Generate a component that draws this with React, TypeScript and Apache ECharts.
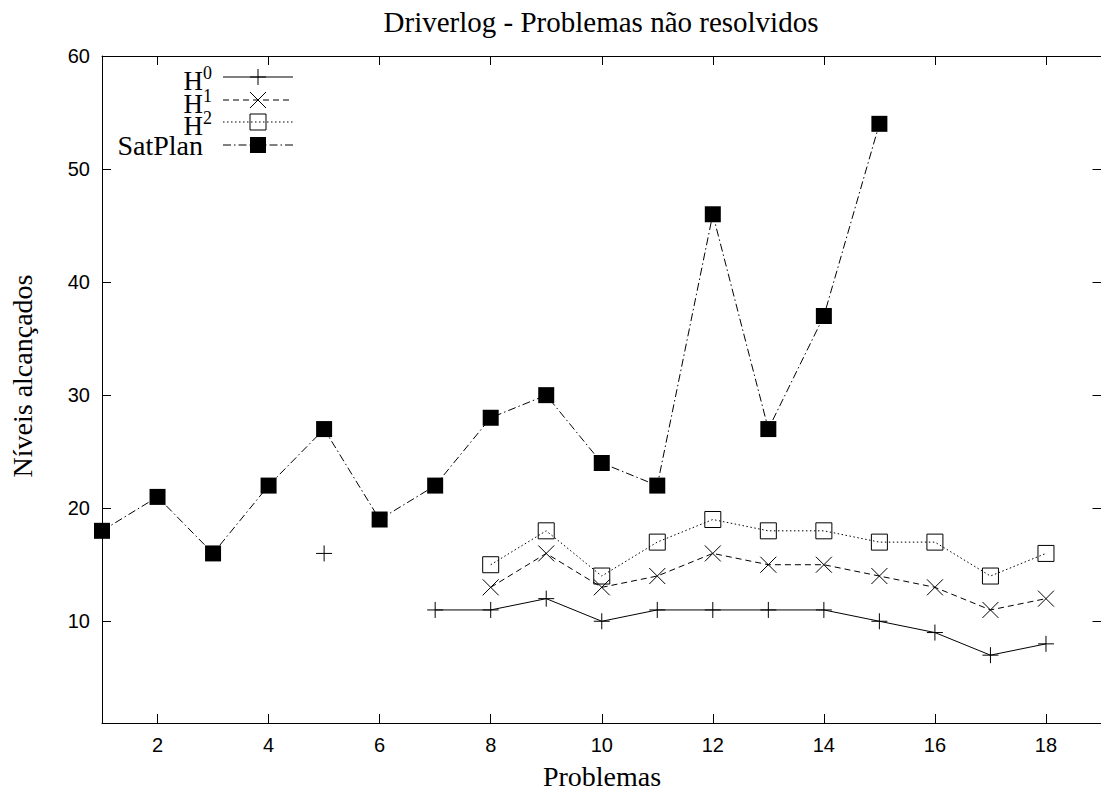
import React, { useEffect, useRef } from "react";
import * as echarts from "echarts";

const problems = [1, 2, 3, 4, 5, 6, 7, 8, 9, 10, 11, 12, 13, 14, 15, 16, 17, 18];
// null = no value
const h0: (number | null)[] = [null, null, null, null, 16, null, 11, 11, 12, 10, 11, 11, 11, 11, 10, 9, 7, 8];
const h1: (number | null)[] = [null, null, null, null, null, null, null, 13, 16, 13, 14, 16, 15, 15, 14, 13, 11, 12];
const h2: (number | null)[] = [null, null, null, null, null, null, null, 15, 18, 14, 17, 19, 18, 18, 17, 17, 14, 16];
const satplan: (number | null)[] = [18, 21, 16, 22, 27, 19, 22, 28, 30, 24, 22, 46, 27, 37, 54, null, null, null];

const xTicks = [2, 4, 6, 8, 10, 12, 14, 16, 18];
const yTicks = [10, 20, 30, 40, 50, 60];

const titleText = "Driverlog - Problemas não resolvidos";
const xName = "Problemas";
const yName = "Níveis alcançados";

const toPairs = (vals: (number | null)[]) => {
  const out: any[] = [];
  let started = false;
  vals.forEach((v, i) => {
    if (v == null) {
      if (started) out.push([problems[i], "-"]);
    } else {
      started = true;
      out.push([problems[i], v]);
    }
  });
  while (out.length && out[out.length - 1][1] === "-") out.pop();
  return out;
};

const PLUS = "path://M8,0L8,16M0,8L16,8";
const CROSS = "path://M0,0L16,16M16,0L0,16";

export default function App() {
  const ref = useRef<HTMLDivElement>(null);
  useEffect(() => {
    if (!ref.current) return;
    const chart = echarts.init(ref.current, undefined, { renderer: "svg" });
    const axisFont = { fontFamily: "Liberation Sans", fontSize: 20, color: "#000" };
    const xAxisBase = {
      type: "value" as const,
      min: 1,
      max: 19,
      axisLine: { show: true, lineStyle: { color: "#000", width: 1 } },
      axisTick: { show: true, inside: true, length: 9, customValues: xTicks, lineStyle: { color: "#000" } },
      splitLine: { show: false },
    };
    const yAxisBase = {
      type: "value" as const,
      min: 1,
      max: 60,
      axisLine: { show: true, lineStyle: { color: "#000", width: 1 } },
      axisTick: { show: true, inside: true, length: 9, customValues: yTicks, lineStyle: { color: "#000" } },
      splitLine: { show: false },
    };
    const black = "#000";
    const serif = "Liberation Serif";
    const legendRows = [
      { label: "H", sup: "0", y: 77, dash: "solid", sym: "plus" },
      { label: "H", sup: "1", y: 100, dash: [6, 4], sym: "cross" },
      { label: "H", sup: "2", y: 122, dash: [1.5, 2.5], sym: "open" },
      { label: "SatPlan", sup: "", y: 145, dash: [8, 3, 1.5, 3], sym: "filled" },
    ];
    const graphics: any[] = [];
    legendRows.forEach((r) => {
      const ty = r.sup ? r.y + 4 : r.y;
      graphics.push({
        type: "text",
        x: 203,
        y: ty,
        style: {
          text: r.label,
          align: "right",
          verticalAlign: "middle",
          fontFamily: serif,
          fontSize: r.sup ? 27 : 28,
          fill: black,
        },
      });
      if (r.sup) {
        graphics.push({
          type: "text",
          x: 203,
          y: r.y - 4,
          style: {
            text: r.sup,
            align: "left",
            verticalAlign: "middle",
            fontFamily: serif,
            fontSize: 18,
            fill: black,
          },
        });
      }
      graphics.push({
        type: "line",
        shape: { x1: 223, y1: r.y, x2: 293, y2: r.y },
        style: { stroke: black, lineWidth: 1, lineDash: r.dash === "solid" ? null : r.dash },
      });
      const cx = 258;
      if (r.sym === "plus") {
        graphics.push({ type: "line", shape: { x1: cx - 8, y1: r.y, x2: cx + 8, y2: r.y }, style: { stroke: black, lineWidth: 1 } });
        graphics.push({ type: "line", shape: { x1: cx, y1: r.y - 8, x2: cx, y2: r.y + 8 }, style: { stroke: black, lineWidth: 1 } });
      } else if (r.sym === "cross") {
        graphics.push({ type: "line", shape: { x1: cx - 8, y1: r.y - 8, x2: cx + 8, y2: r.y + 8 }, style: { stroke: black, lineWidth: 1 } });
        graphics.push({ type: "line", shape: { x1: cx + 8, y1: r.y - 8, x2: cx - 8, y2: r.y + 8 }, style: { stroke: black, lineWidth: 1 } });
      } else if (r.sym === "open") {
        graphics.push({ type: "rect", shape: { x: cx - 8, y: r.y - 8, width: 16, height: 16 }, style: { fill: "none", stroke: black, lineWidth: 1 } });
      } else {
        graphics.push({ type: "rect", shape: { x: cx - 8, y: r.y - 8, width: 16, height: 16 }, style: { fill: black } });
      }
    });
    graphics.push({
      type: "text",
      x: 601,
      y: 22,
      style: { text: titleText, align: "center", verticalAlign: "middle", fontFamily: serif, fontSize: 29, fill: black },
    });
    graphics.push({
      type: "text",
      x: 602,
      y: 776,
      style: { text: xName, align: "center", verticalAlign: "middle", fontFamily: serif, fontSize: 28, fill: black },
    });
    graphics.push({
      type: "text",
      x: 22,
      y: 376,
      rotation: Math.PI / 2,
      style: { text: yName, align: "center", verticalAlign: "middle", fontFamily: serif, fontSize: 28, fill: black },
    });

    const seriesCommon = {
      type: "line" as const,
      xAxisIndex: 0,
      yAxisIndex: 0,
      connectNulls: false,
      clip: false,
      showAllSymbol: true,
      emphasis: { disabled: true },
    };

    chart.setOption({
      animation: false,
      grid: { left: 102, top: 56, width: 999.5, height: 667, containLabel: false, outerBoundsMode: "none" },
      xAxis: [
        {
          ...xAxisBase,
          position: "bottom",
          axisLabel: { show: true, customValues: xTicks, margin: 12, ...axisFont },
        },
        {
          ...xAxisBase,
          position: "top",
          axisLabel: { show: false },
        },
      ],
      yAxis: [
        {
          ...yAxisBase,
          position: "left",
          axisLabel: { show: true, customValues: yTicks, margin: 12, ...axisFont },
        },
        {
          ...yAxisBase,
          position: "right",
          axisLabel: { show: false },
        },
      ],
      graphic: graphics,
      series: [
        {
          ...seriesCommon,
          name: "H0",
          data: toPairs(h0),
          symbol: PLUS,
          symbolSize: 16,
          lineStyle: { color: black, width: 1, type: "solid" },
          itemStyle: { color: "rgba(0,0,0,0)", borderColor: black, borderWidth: 1 },
        },
        {
          ...seriesCommon,
          name: "H1",
          data: toPairs(h1),
          symbol: CROSS,
          symbolSize: 16,
          lineStyle: { color: black, width: 1, type: [6, 4] },
          itemStyle: { color: "rgba(0,0,0,0)", borderColor: black, borderWidth: 1 },
        },
        {
          ...seriesCommon,
          name: "H2",
          data: toPairs(h2),
          symbol: "rect",
          symbolSize: 16,
          lineStyle: { color: black, width: 1, type: [1.5, 2.5] },
          itemStyle: { color: "rgba(0,0,0,0)", borderColor: black, borderWidth: 1 },
        },
        {
          ...seriesCommon,
          name: "SatPlan",
          data: toPairs(satplan),
          symbol: "rect",
          symbolSize: 16,
          lineStyle: { color: black, width: 1, type: [8, 3, 1.5, 3] },
          itemStyle: { color: black, borderWidth: 0 },
        },
      ],
    });
    return () => chart.dispose();
  }, []);
  return (
    <div
      ref={ref}
      style={{ position: "absolute", left: 0, top: 0, width: 1101, height: 791, background: "#fff" }}
    />
  );
}
